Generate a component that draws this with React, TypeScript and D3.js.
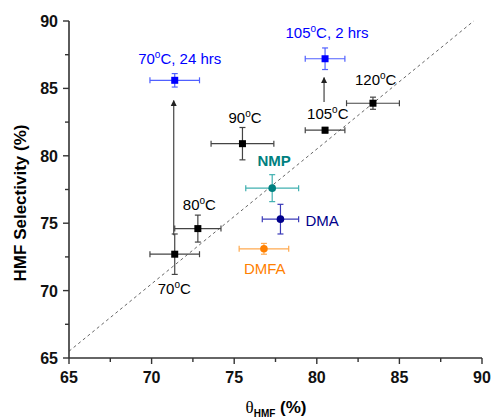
import React, { useEffect, useRef } from 'react';
import * as d3 from 'd3';

// temperature series (black squares)
const tempLabels = ['70', '80', '90', '105', '120'];
const tempX = [71.4, 72.8, 75.5, 80.5, 83.4];
const tempY = [72.7, 74.6, 80.9, 81.9, 83.9];
const tempXErr = [1.5, 1.4, 1.9, 1.2, 1.6];
const tempYErr = [1.5, 1.0, 1.2, 0.2, 0.45];

// extended time runs (blue squares)
const extLabels = ['70', '105'];
const extHours = ['24 hrs', '2 hrs'];
const extX = [71.4, 80.5];
const extY = [85.6, 87.2];
const extXErr = [1.5, 1.2];
const extYErr = [0.5, 0.8];

// solvents (circles)
const solventNames = ['NMP', 'DMA', 'DMFA'];
const solventX = [77.3, 77.8, 76.8];
const solventY = [77.6, 75.3, 73.1];
const solventXErr = [1.6, 1.1, 1.5];
const solventYErr = [1.0, 1.1, 0.4];

// arrows: start -> end
const arrowX = [71.4, 80.5];
const arrowY0 = [74.1, 84.0];
const arrowY1 = [84.1, 85.8];

const xTicks = [65, 70, 75, 80, 85, 90];
const yTicks = [65, 70, 75, 80, 85, 90];

const FONT = "'Liberation Sans', Arial, sans-serif";

const App = () => {
  const ref = useRef<SVGSVGElement>(null);

  useEffect(() => {
    const svg = d3.select(ref.current);
    svg.selectAll('*').remove();

    const x = d3.scaleLinear().domain([65, 90]).range([69, 482]);
    const y = d3.scaleLinear().domain([65, 90]).range([358, 21]);
    const axisColor = '#333';

    // diagonal reference
    svg.append('line')
      .attr('x1', x(65)).attr('y1', y(65.5))
      .attr('x2', x(89.5)).attr('y2', y(90))
      .attr('stroke', '#666').attr('stroke-width', 1)
      .attr('stroke-dasharray', '3,3');

    // axes
    const g = svg.append('g').attr('font-family', FONT);
    g.append('line').attr('x1', x(65)).attr('x2', x(90)).attr('y1', y(65)).attr('y2', y(65))
      .attr('stroke', axisColor).attr('stroke-width', 1.6);
    g.append('line').attr('x1', x(65)).attr('x2', x(65)).attr('y1', y(65)).attr('y2', y(90))
      .attr('stroke', axisColor).attr('stroke-width', 1.6);
    d3.range(65, 90.1, 2.5).forEach((v) => {
      const major = v % 5 === 0;
      g.append('line').attr('x1', x(v)).attr('x2', x(v)).attr('y1', y(65)).attr('y2', y(65) + (major ? 6 : 4))
        .attr('stroke', axisColor).attr('stroke-width', 1.4);
      g.append('line').attr('y1', y(v)).attr('y2', y(v)).attr('x1', x(65)).attr('x2', x(65) - (major ? 6 : 4))
        .attr('stroke', axisColor).attr('stroke-width', 1.4);
    });
    g.selectAll('.xt').data(xTicks).enter().append('text')
      .attr('x', (d) => x(d)).attr('y', 383).attr('text-anchor', 'middle')
      .attr('font-size', 16).attr('font-weight', 'bold').attr('fill', '#111').text((d) => d);
    g.selectAll('.yt').data(yTicks).enter().append('text')
      .attr('x', 58).attr('y', (d) => y(d) + 6).attr('text-anchor', 'end')
      .attr('font-size', 16).attr('font-weight', 'bold').attr('fill', '#111').text((d) => d);

    // axis titles
    g.append('text')
      .attr('transform', 'translate(26,203) rotate(-90)')
      .attr('text-anchor', 'middle').attr('font-size', 17).attr('font-weight', 'bold')
      .text('HMF Selectivity (%)');
    const xt = g.append('text').attr('x', 276).attr('y', 413).attr('text-anchor', 'middle')
      .attr('font-size', 17).attr('font-weight', 'bold');
    xt.append('tspan').attr('font-family', "'Liberation Serif', serif").attr('font-weight', 'normal').text('θ');
    xt.append('tspan').attr('font-size', 10).attr('dy', 4).text('HMF');
    xt.append('tspan').attr('dy', -4).text(' (%)');

    // arrows
    const defs = svg.append('defs');
    defs.append('marker').attr('id', 'ah').attr('viewBox', '0 0 10 10')
      .attr('refX', 9).attr('refY', 5).attr('markerWidth', 5).attr('markerHeight', 7)
      .attr('orient', 'auto').append('path').attr('d', 'M0,0 L10,5 L0,10 z').attr('fill', '#222');
    arrowX.forEach((ax, i) => {
      svg.append('line')
        .attr('x1', x(ax) - 1).attr('x2', x(ax) - 1)
        .attr('y1', y(arrowY0[i])).attr('y2', y(arrowY1[i]))
        .attr('stroke', '#444').attr('stroke-width', 1.2).attr('marker-end', 'url(#ah)');
    });

    const errBars = (px: number[], py: number[], ex: number[], ey: number[], color: string) => {
      px.forEach((vx, i) => {
        const eg = svg.append('g').attr('stroke', color).attr('stroke-width', 1.2);
        const cx = x(vx), cy = y(py[i]);
        const xl = x(vx - ex[i]), xr = x(vx + ex[i]);
        const yt = y(py[i] + ey[i]), yb = y(py[i] - ey[i]);
        eg.append('line').attr('x1', xl).attr('x2', xr).attr('y1', cy).attr('y2', cy);
        eg.append('line').attr('x1', xl).attr('x2', xl).attr('y1', cy - 3).attr('y2', cy + 3);
        eg.append('line').attr('x1', xr).attr('x2', xr).attr('y1', cy - 3).attr('y2', cy + 3);
        eg.append('line').attr('x1', cx).attr('x2', cx).attr('y1', yt).attr('y2', yb);
        eg.append('line').attr('x1', cx - 3).attr('x2', cx + 3).attr('y1', yt).attr('y2', yt);
        eg.append('line').attr('x1', cx - 3).attr('x2', cx + 3).attr('y1', yb).attr('y2', yb);
      });
    };

    const degLabel = (px: number, py: number, t: string, tail: string, anchor: string, color: string) => {
      const tx = svg.append('text').attr('x', px).attr('y', py).attr('text-anchor', anchor)
        .attr('font-family', FONT).attr('font-size', 15).attr('fill', color);
      tx.append('tspan').text(t);
      tx.append('tspan').attr('font-size', 10).attr('dy', -6).text('o');
      tx.append('tspan').attr('dy', 6).text('C' + tail);
    };

    // temperature series
    errBars(tempX, tempY, tempXErr, tempYErr, '#444');
    svg.selectAll('.sq').data(tempX).enter().append('rect')
      .attr('x', (d) => x(d) - 3.5).attr('y', (d, i) => y(tempY[i]) - 3.5)
      .attr('width', 7).attr('height', 7).attr('fill', '#000');
    const tOff = [[-17, 40], [-15, -19], [-14, -21], [-18, -11], [-18, -18]];
    tempLabels.forEach((l, i) => {
      degLabel(x(tempX[i]) + tOff[i][0], y(tempY[i]) + tOff[i][1], l, '', 'start', '#000');
    });

    // extended runs
    errBars(extX, extY, extXErr, extYErr, '#5060ff');
    svg.selectAll('.bsq').data(extX).enter().append('rect')
      .attr('x', (d) => x(d) - 3.5).attr('y', (d, i) => y(extY[i]) - 3.5)
      .attr('width', 7).attr('height', 7).attr('fill', '#0000ff');
    const eOff = [[5, -16], [2, -21]];
    extLabels.forEach((l, i) => {
      degLabel(x(extX[i]) + eOff[i][0], y(extY[i]) + eOff[i][1], l, ', ' + extHours[i], 'middle', '#0000ff');
    });

    // solvents
    const solventColors = ['#008080', '#00008b', '#ff8000'];
    const solventErrColors = ['#40b0b0', '#3a3ab8', '#ffaa50'];
    const sOff = [[2, -22, 'middle'], [25, 7, 'start'], [-20, 25, 'start']];
    solventX.forEach((vx, i) => {
      errBars([vx], [solventY[i]], [solventXErr[i]], [solventYErr[i]], solventErrColors[i]);
      svg.append('circle').attr('cx', x(vx)).attr('cy', y(solventY[i])).attr('r', 3.8)
        .attr('fill', solventColors[i]);
      svg.append('text')
        .attr('x', x(vx) + (sOff[i][0] as number)).attr('y', y(solventY[i]) + (sOff[i][1] as number))
        .attr('text-anchor', sOff[i][2] as string)
        .attr('font-family', FONT).attr('font-size', 15).attr('fill', solventColors[i])
        .attr('font-weight', i === 0 ? 'bold' : 'normal')
        .text(solventNames[i]);
    });
  }, []);

  return <svg ref={ref} width={491} height={418} style={{ position: 'absolute', left: 0, top: 0 }} />;
};

export default App;
